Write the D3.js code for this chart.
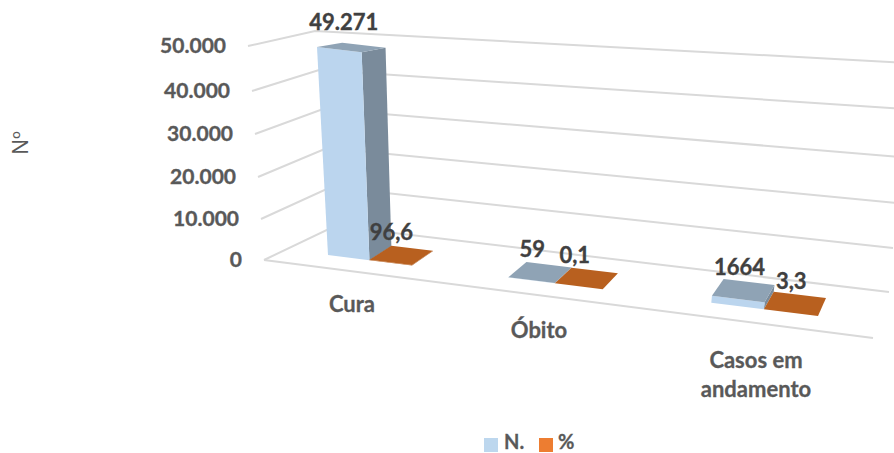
<!DOCTYPE html>
<html lang="pt">
<head>
  <meta charset="utf-8">
  <title>Casos: cura, óbito e em andamento</title>
  <style>
    body { margin: 0; background: #fff; }
    svg { display: block; font-family: Lato, "Open Sans", sans-serif; }
    .grid { stroke: #d9d9d9; stroke-width: 2; fill: none; }
    .label { fill: #404040; stroke: #404040; stroke-width: 0.35; font-weight: 700; font-size: 22px; }
    .tick { fill: #595959; stroke: #595959; stroke-width: 0.35; font-weight: 700; font-size: 21px; }
    .cat { fill: #595959; stroke: #595959; stroke-width: 0.3; font-weight: 700; font-size: 22px; }
    .legend-text { fill: #595959; stroke: #595959; stroke-width: 0.3; font-weight: 700; font-size: 20px; }
  </style>
</head>
<body>
  <svg id="chart" width="894" height="453"></svg>

  <script src="https://d3js.org/d3.v7.min.js"></script>
  <script>
    // values
    const categories = ["Cura", "Óbito", "Casos em andamento"];
    const seriesNames = ["N.", "%"];
    const nValues = [49271, 59, 1664];
    const pctValues = [96.6, 0.1, 3.3];
    const nLabels = ["49.271", "59", "1664"];
    const pctLabels = ["96,6", "0,1", "3,3"];
    const gridValues = [0, 10000, 20000, 30000, 40000, 50000];
    const tickLabels = ["0", "10.000", "20.000", "30.000", "40.000", "50.000"];

    const svg = d3.select("#chart");

    // wall/floor edges of the 3d box, as scales from value to pixel
    const leftX = d3.scaleLinear().domain(gridValues).range([264, 261, 258, 255, 252, 248]);
    const leftY = d3.scaleLinear().domain(gridValues).range([260, 219, 177, 134, 91, 46]);
    const cornerX = d3.scaleLinear().domain([0, 50000]).range([335, 315]);
    const cornerY = d3.scaleLinear().domain([0, 50000]).range([226, 31]);
    const rightX = d3.scaleLinear().domain([0, 50000]).range([889, 909]);
    const rightY = d3.scaleLinear().domain(gridValues).range([292, 248, 203, 157, 109, 63]);

    const line = d3.line();
    svg.append("g").selectAll("path")
      .data(gridValues)
      .join("path")
      .attr("class", "grid")
      .attr("d", v => line([[leftX(v), leftY(v)], [cornerX(v), cornerY(v)], [rightX(v), rightY(v)]]));

    // front edge of the floor
    svg.append("path").attr("class", "grid")
      .attr("d", line([[leftX(0), leftY(0)], [873, 338]]));

    svg.append("g").selectAll("text")
      .data(gridValues)
      .join("text")
      .attr("class", "tick")
      .attr("text-anchor", "end")
      .attr("x", v => leftX(v) - 22)
      .attr("y", v => leftY(v) + 7)
      .text((v, i) => tickLabels[i]);

    // floor footprint of the bars: unit square to picture, projective
    function quadMap(p0, p1, p2, p3) {
      const dx1 = p1[0] - p2[0], dx2 = p3[0] - p2[0], sx = p0[0] - p1[0] + p2[0] - p3[0];
      const dy1 = p1[1] - p2[1], dy2 = p3[1] - p2[1], sy = p0[1] - p1[1] + p2[1] - p3[1];
      const den = dx1 * dy2 - dx2 * dy1;
      const g = (sx * dy2 - dx2 * sy) / den;
      const h = (dx1 * sy - sx * dy1) / den;
      const a = p1[0] - p0[0] + g * p1[0], b = p3[0] - p0[0] + h * p3[0];
      const d = p1[1] - p0[1] + g * p1[1], e = p3[1] - p0[1] + h * p3[1];
      return (u, v) => {
        const w = g * u + h * v + 1;
        return [(a * u + b * v + p0[0]) / w, (d * u + e * v + p0[1]) / w];
      };
    }
    const floor = quadMap([328, 255], [818, 316], [826, 298], [351, 241.4]);

    const uGroup = d3.scaleBand().domain(categories).range([0, 1]).paddingInner(0.52);
    const uSeries = d3.scaleBand().domain(seriesNames).range([0, uGroup.bandwidth()]);

    const heightY = d3.scaleLinear().domain([0, 50000]).range([0, 211]);
    const leanX = d3.scaleLinear().domain([330, 470]).range([-11, 0]);
    const depthShrink = d3.scaleLinear().domain([0, 1]).range([1, 0.955]);

    function pt(u, v, value) {
      const p = floor(u, v);
      const h = heightY(value) * depthShrink(v);
      return [p[0] + leanX(p[0]) * h / 211, p[1] - h];
    }

    const colors = {
      "N.": { front: "#bbd5ee", side: "#7a8b9b", top: "#8fa3b5" },
      "%": { front: "#b8601f", side: "#a3551c", top: "#b8601f" }
    };

    // label nudges relative to the top of each bar
    const nDx = [-8, -8, -4];
    const pctDx = [-10, -12, -4];
    const nDy = [-24, -22, -22];

    const bars = [];
    categories.forEach((c, i) => {
      bars.push({ cat: c, s: "N.", value: nValues[i], label: nLabels[i], dx: nDx[i], dy: nDy[i] });
      bars.push({ cat: c, s: "%", value: pctValues[i], label: pctLabels[i], dx: pctDx[i], dy: -22 });
    });

    const poly = pts => line(pts) + "Z";
    const barG = svg.append("g").selectAll("g").data(bars).join("g");

    barG.each(function (b) {
      const g = d3.select(this);
      const u0 = uGroup(b.cat) + uSeries(b.s), u1 = u0 + uSeries.bandwidth();
      g.append("path").attr("fill", colors[b.s].side)
        .attr("d", poly([pt(u1, 0, 0), pt(u1, 1, 0), pt(u1, 1, b.value), pt(u1, 0, b.value)]));
      g.append("path").attr("fill", colors[b.s].front)
        .attr("d", poly([pt(u0, 0, 0), pt(u1, 0, 0), pt(u1, 0, b.value), pt(u0, 0, b.value)]));
      g.append("path").attr("fill", colors[b.s].top)
        .attr("d", poly([pt(u0, 0, b.value), pt(u1, 0, b.value), pt(u1, 1, b.value), pt(u0, 1, b.value)]));
    });

    svg.append("g").selectAll("text")
      .data(bars)
      .join("text")
      .attr("class", "label")
      .attr("text-anchor", "middle")
      .attr("x", b => {
        const u0 = uGroup(b.cat) + uSeries(b.s);
        return pt(u0 + uSeries.bandwidth() / 2, 0.5, b.value)[0] + b.dx;
      })
      .attr("y", b => {
        const u0 = uGroup(b.cat) + uSeries(b.s);
        return pt(u0 + uSeries.bandwidth() / 2, 0.5, b.value)[1] + b.dy + 7;
      })
      .text(b => b.label);

    // category labels follow the floor edge
    const catX = d3.scaleOrdinal().domain(categories).range([352, 539, 756]);
    const catY = d3.scaleOrdinal().domain(categories).range([312, 338, 368]);
    categories.forEach(c => {
      const words = c === "Casos em andamento" ? ["Casos em", "andamento"] : [c];
      words.forEach((w, i) => {
        svg.append("text").attr("class", "cat")
          .attr("text-anchor", "middle")
          .attr("x", catX(c))
          .attr("y", catY(c) + i * 29)
          .text(w);
      });
    });

    svg.append("text")
      .attr("transform", "translate(28,143) rotate(-90)")
      .attr("text-anchor", "middle")
      .attr("fill", "#595959")
      .attr("font-family", "'Open Sans', sans-serif")
      .attr("font-size", 21)
      .text("Nº");

    // legend
    const legend = [
      { name: seriesNames[0], color: "#bdd7ee", x: 484, tx: 504 },
      { name: seriesNames[1], color: "#ed7d31", x: 539, tx: 558 }
    ];
    const legendG = svg.append("g").selectAll("g").data(legend).join("g");
    legendG.append("rect")
      .attr("x", d => d.x).attr("y", 438)
      .attr("width", 14).attr("height", 14)
      .attr("fill", d => d.color);
    legendG.append("text")
      .attr("class", "legend-text")
      .attr("x", d => d.tx).attr("y", 449)
      .text(d => d.name);
  </script>
</body>
</html>
